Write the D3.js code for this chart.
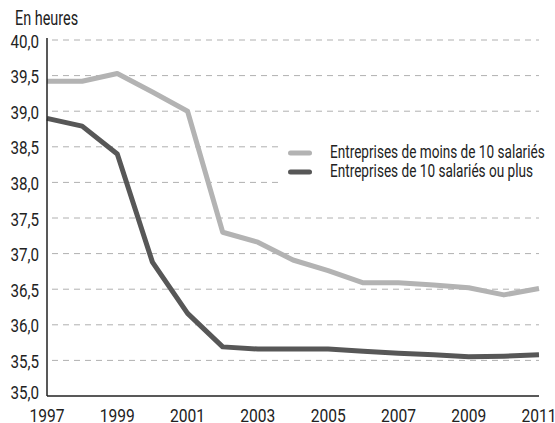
<!DOCTYPE html>
<html><head><meta charset="utf-8">
<script src="https://cdn.jsdelivr.net/npm/d3@7"></script>
<style>
body{margin:0;background:#fff;}
svg{display:block;font-family:Roboto,"DejaVu Sans",sans-serif;}
</style></head>
<body><svg id="c" width="555" height="423"></svg>
<script>
const years = [1997,1998,1999,2000,2001,2002,2003,2004,2005,2006,2007,2008,2009,2010,2011];
const small = [39.42,39.42,39.53,39.27,39.0,37.30,37.16,36.91,36.76,36.59,36.59,36.56,36.52,36.42,36.51];
const large = [38.90,38.79,38.40,36.88,36.16,35.69,35.66,35.66,35.66,35.63,35.60,35.58,35.55,35.56,35.58];
const yTicks = [35.0,35.5,36.0,36.5,37.0,37.5,38.0,38.5,39.0,39.5,40.0];
const xTicks = [1997,1999,2001,2003,2005,2007,2009,2011];
const seriesNames = ["Entreprises de moins de 10 salariés","Entreprises de 10 salariés ou plus"];
const colors = ["#b3b3b3","#575757"];

const svg = d3.select("#c");
const x = d3.scaleLinear().domain([1997,2011]).range([47,539]);
const y = d3.scaleLinear().domain([35,40]).range([396,40]);
const fmt = v => d3.format(".1f")(v).replace(".",",");

// squeeze text horizontally to a condensed look
function condense(sel, k){
  sel.each(function(){
    const w = this.getComputedTextLength();
    d3.select(this).attr("textLength", w*k).attr("lengthAdjust","spacingAndGlyphs");
  });
}

// grid
svg.append("g").selectAll("line").data(yTicks.filter(d=>d>35)).join("line")
  .attr("x1",52).attr("x2",539).attr("y1",d=>y(d)).attr("y2",d=>y(d))
  .attr("stroke","#b0b0b0").attr("stroke-width",1).attr("stroke-dasharray","6,5");

// y labels
svg.append("g").selectAll("text").data(yTicks).join("text")
  .attr("x",39).attr("y",d=>y(d)+(d===35?3:7.5)).attr("text-anchor","end")
  .attr("font-size",18.5).attr("fill","#222").text(fmt).call(condense,0.82);

// x labels
svg.append("g").selectAll("text").data(xTicks).join("text")
  .attr("x",d=>x(d)).attr("y",421.5).attr("text-anchor","middle")
  .attr("font-size",19).attr("fill","#222").text(d=>d).call(condense,0.82);

svg.append("text").attr("x",15).attr("y",25).attr("font-size",19.5).attr("fill","#222")
  .text("En heures").call(condense,0.74);

// legend background
svg.append("rect").attr("x",283).attr("y",132).attr("width",272).attr("height",60).attr("fill","#fff");

// lines
const line = d3.line().x((d,i)=>x(years[i])).y(d=>y(d));
[small,large].forEach((s,k)=>{
  svg.append("path").datum(s).attr("d",line).attr("fill","none")
    .attr("stroke",colors[k]).attr("stroke-width",5).attr("stroke-linejoin","round");
});

// axes
svg.append("line").attr("x1",47).attr("x2",47).attr("y1",38).attr("y2",396).attr("stroke","#222").attr("stroke-width",1.5);
svg.append("line").attr("x1",47).attr("x2",539).attr("y1",396).attr("y2",396).attr("stroke","#222").attr("stroke-width",1.5);

// legend
const lg = svg.append("g").selectAll("g").data(seriesNames).join("g")
  .attr("transform",(d,i)=>`translate(0,${153+i*19})`);
lg.append("line").attr("x1",290.5).attr("x2",309.5).attr("stroke",(d,i)=>colors[i])
  .attr("stroke-width",5).attr("stroke-linecap","round");
lg.append("text").attr("x",330).attr("y",5).attr("font-size",18).attr("fill","#222").text(d=>d).call(condense,0.755);
</script></body></html>
